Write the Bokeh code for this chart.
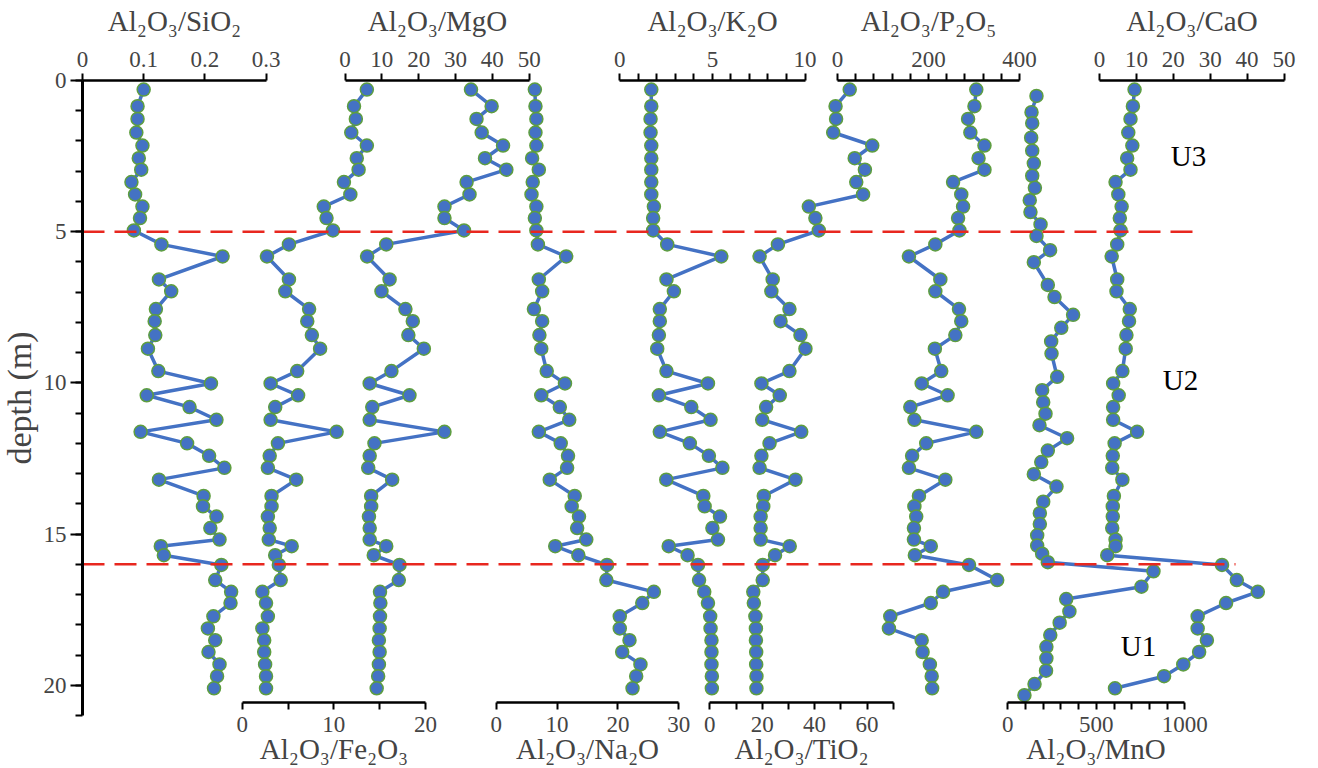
from bokeh.plotting import figure
from bokeh.models import Range1d, LinearAxis, FixedTicker, SingleIntervalTicker, CustomJSTickFormatter
from bokeh.embed import file_html
from bokeh.resources import INLINE
from bokeh.core.properties import value

# ---------------- data ----------------
depth = [0.30, 0.85, 1.27, 1.72, 2.15, 2.57, 2.95, 3.36, 3.77, 4.17, 4.55, 4.96,
         5.42, 5.82, 6.58, 6.97, 7.56, 7.96, 8.42, 8.87, 9.61, 10.02, 10.41, 10.80, 11.22,
         11.62, 12.00, 12.41, 12.81, 13.20, 13.74, 14.08, 14.42, 14.80, 15.18, 15.40, 15.70,
         16.02, 16.52, 16.91, 17.28, 17.72, 18.12, 18.51, 18.90, 19.31, 19.70, 20.10]
depth_mno = [0.51, 1.05, 1.41, 1.89, 2.32, 2.74, 3.15, 3.55, 3.96, 4.35, 4.76, 5.14,
             5.61, 6.01, 6.76, 7.16, 7.75, 8.18, 8.63, 9.03, 9.80, 10.24, 10.64, 11.02, 11.40,
             11.83, 12.24, 12.62, 13.02, 13.43, 13.93, 14.31, 14.67, 15.04, 15.38, 15.65, 15.93,
             16.23, 16.74, 17.15, 17.56, 17.93, 18.34, 18.73, 19.11, 19.52, 19.96, 20.33]

al_sio2 = [0.100, 0.090, 0.090, 0.088, 0.098, 0.092, 0.096, 0.080, 0.086, 0.098, 0.094, 0.084,
           0.129, 0.229, 0.125, 0.145, 0.120, 0.118, 0.119, 0.107, 0.124, 0.210, 0.105, 0.175, 0.219,
           0.095, 0.171, 0.207, 0.232, 0.125, 0.198, 0.197, 0.219, 0.209, 0.224, 0.128, 0.133,
           0.227, 0.217, 0.243, 0.242, 0.214, 0.205, 0.217, 0.206, 0.224, 0.220, 0.215]
al_fe2o3 = [13.6, 12.2, 12.4, 11.9, 13.6, 12.5, 12.7, 11.1, 11.8, 8.9, 9.2, 9.9,
            5.1, 2.7, 5.1, 4.7, 7.3, 7.1, 7.6, 8.5, 6.0, 3.1, 6.1, 3.6, 3.1,
            10.3, 3.9, 3.0, 2.8, 5.9, 3.2, 3.2, 2.8, 3.0, 2.9, 5.4, 3.6,
            4.0, 4.2, 2.2, 2.6, 2.8, 2.2, 2.4, 2.4, 2.5, 2.6, 2.6]
al_mgo = [34.2, 39.8, 35.7, 37.1, 42.9, 38.0, 43.8, 33.0, 33.8, 27.0, 27.0, 32.3,
          11.2, 6.0, 12.1, 9.9, 16.4, 18.4, 17.2, 21.4, 12.6, 6.7, 17.5, 7.4, 6.7,
          27.0, 8.0, 6.7, 6.3, 12.8, 7.1, 7.1, 6.5, 6.7, 6.7, 11.2, 7.8,
          14.8, 14.6, 9.5, 9.6, 9.5, 9.4, 9.2, 9.4, 9.2, 9.0, 8.6]
al_na2o = [6.35, 6.45, 6.6, 6.45, 6.6, 5.9, 7.0, 6.0, 5.8, 6.6, 6.35, 6.6,
           6.85, 11.5, 7.0, 7.55, 6.2, 7.55, 7.1, 7.4, 8.3, 11.3, 7.4, 10.45, 12.0,
           7.0, 10.6, 11.8, 11.65, 8.8, 12.9, 12.4, 13.6, 13.3, 14.8, 9.7, 13.5,
           18.2, 18.1, 25.9, 24.0, 20.3, 20.3, 21.9, 20.7, 23.7, 23.0, 22.4]
al_k2o = [1.70, 1.70, 1.66, 1.66, 1.70, 1.70, 1.70, 1.70, 1.70, 1.84, 1.80, 1.80,
          2.56, 5.48, 2.52, 2.92, 2.16, 2.16, 2.11, 2.02, 2.52, 4.76, 2.11, 3.86, 4.90,
          2.16, 3.78, 4.81, 5.54, 2.51, 4.51, 4.58, 5.41, 5.00, 5.30, 2.64, 3.66,
          4.22, 4.28, 4.56, 4.76, 4.88, 4.90, 4.95, 4.95, 4.95, 4.97, 4.97]
al_tio2 = [53.4, 48.0, 48.2, 47.1, 62.0, 55.3, 59.2, 55.9, 58.5, 37.8, 40.3, 41.6,
           26.0, 19.0, 24.0, 23.5, 30.4, 27.0, 34.6, 36.5, 30.4, 19.7, 26.7, 21.5, 20.0,
           34.9, 22.8, 19.7, 19.0, 32.7, 20.6, 20.4, 19.4, 19.4, 19.4, 30.5, 24.9,
           20.2, 20.2, 16.6, 16.8, 17.4, 17.6, 17.6, 17.7, 17.7, 17.8, 17.8]
al_p2o5 = [305, 301, 287, 292, 323, 310, 323, 254, 272, 276, 265, 268,
           215, 157, 226, 215, 267, 272, 259, 214, 228, 185, 242, 160, 169,
           305, 195, 164, 157, 237, 179, 169, 173, 168, 168, 205, 170,
           289, 351, 232, 205, 116, 113, 185, 187, 203, 207, 208]
al_mno = [162, 134, 138, 132, 138, 147, 138, 153, 124, 128, 185, 162,
          239, 147, 226, 264, 369, 302, 245, 247, 279, 194, 200, 213, 179,
          335, 226, 189, 147, 275, 200, 181, 181, 166, 166, 194, 226,
          823, 755, 330, 348, 293, 240, 218, 218, 216, 151, 94]
al_cao = [9.5, 9.05, 8.4, 7.8, 8.9, 7.5, 8.4, 4.35, 5.1, 6.0, 5.5, 5.7,
          4.8, 3.3, 4.8, 4.6, 8.2, 8.0, 7.3, 7.1, 6.2, 3.7, 5.2, 3.7, 3.7,
          10.2, 4.1, 3.6, 3.45, 6.2, 3.9, 3.6, 3.6, 3.45, 4.35, 4.35, 2.1,
          33.2, 37.2, 42.9, 34.3, 26.6, 26.6, 29.1, 27.0, 22.7, 17.5, 4.2]

unit_boundaries = [5.0, 16.0]
unit_names = ["U3", "U2", "U1"]
unit_label_depth = [2.5, 9.9, 18.7]

titles = ["Al₂O₃/SiO₂", "Al₂O₃/Fe₂O₃", "Al₂O₃/MgO", "Al₂O₃/Na₂O", "Al₂O₃/K₂O",
          "Al₂O₃/TiO₂", "Al₂O₃/P₂O₅", "Al₂O₃/MnO", "Al₂O₃/CaO"]
series = [al_sio2, al_fe2o3, al_mgo, al_na2o, al_k2o, al_tio2, al_p2o5, al_mno, al_cao]
series_depth = [depth, depth, depth, depth, depth, depth, depth, depth_mno, depth]
axis_max = [0.3, 20, 50, 30, 10, 70, 400, 1000, 50]
major_ticks = [[0, 0.1, 0.2, 0.3], [0, 10, 20], [0, 10, 20, 30, 40, 50], [0, 10, 20, 30],
               [0, 5, 10], [0, 20, 40, 60], [0, 200, 400], [0, 500, 1000], [0, 10, 20, 30, 40, 50]]
minor_ticks = [[], [5, 15], [], [],
               [1, 2, 3, 4, 6, 7, 8, 9], [10, 30, 50, 70],
               [40, 80, 120, 160, 240, 280, 320, 360],
               [100, 200, 300, 400, 600, 700, 800, 900], []]
DEPTH_MAX = 21

# ---------------- layout (page positions, px) ----------------
W, H = 1318, 768
AX_X = 82.0                 # depth axis position
TOP_Y, BOT_Y = 80.0, 715.0  # depth 0 and depth 21 on the page
spans = [(82.0, 265.5), (241.7, 425.0), (344.5, 528.7), (495.7, 678.3), (619.3, 804.5),
         (709.3, 892.7), (837.0, 1019.0), (1007.3, 1184.3), (1099.0, 1283.5)]
sides = ["above", "below", "above", "below", "above", "below", "above", "below", "above"]
BOTTOM_AXIS_DEPTH = 20.56
dash_end = [1195, 1235]
unit_label_x = [1188, 1180, 1138]

FONT = "Liberation Serif"
BLUE = "#4472C4"
GREEN = "#5E9E3F"
RED = "#E8271F"

px_per_m = (BOT_Y - TOP_Y) / DEPTH_MAX
y_top = -TOP_Y / px_per_m
y_bot = (H - TOP_Y) / px_per_m

p = figure(width=W, height=H,
           x_range=Range1d(0, W), y_range=Range1d(y_bot, y_top),
           x_axis_location=None, y_axis_location=None,
           toolbar_location=None, output_backend="svg",
           min_border_left=0, min_border_right=0, min_border_top=0, min_border_bottom=0)
p.outline_line_color = None
p.grid.visible = False
p.background_fill_color = "white"
p.border_fill_color = "white"

fmt = CustomJSTickFormatter(code="return String(tick);")

# depth axis
yax = LinearAxis(fixed_location=AX_X, bounds=(0, DEPTH_MAX),
                 ticker=SingleIntervalTicker(interval=5, num_minor_ticks=5),
                 axis_label="depth (m)")
yax.axis_line_width = 3
yax.major_tick_line_width = 2
yax.minor_tick_line_width = 2
yax.major_tick_out = 12
yax.major_tick_in = 0
yax.minor_tick_out = 7
yax.minor_tick_in = 0
yax.major_label_text_font = FONT
yax.major_label_text_font_size = "23px"
yax.major_label_standoff = 4
yax.axis_label_text_font = FONT
yax.axis_label_text_font_style = "normal"
yax.axis_label_text_font_size = "34px"
yax.axis_label_standoff = 3
yax.formatter = fmt
p.add_layout(yax, "left")

ranges = {}
for i, (s0, s1) in enumerate(spans):
    A = axis_max[i]
    k = A / (s1 - s0)
    ranges[f"r{i}"] = Range1d(-s0 * k, A + (W - s1) * k)
p.extra_x_ranges = ranges

for i in range(len(series)):
    rn = f"r{i}"
    side = sides[i]
    ax = LinearAxis(x_range_name=rn, bounds=(0, axis_max[i]),
                    fixed_location=(0 if side == "above" else BOTTOM_AXIS_DEPTH),
                    ticker=FixedTicker(ticks=major_ticks[i], minor_ticks=minor_ticks[i]),
                    formatter=fmt, axis_label=titles[i])
    ax.axis_line_width = 2.5
    ax.major_tick_line_width = 2
    ax.minor_tick_line_width = 2
    ax.major_tick_out = 7
    ax.major_tick_in = 0
    ax.minor_tick_out = 7
    ax.minor_tick_in = 0
    ax.major_label_text_font = FONT
    ax.major_label_text_font_size = "23px"
    ax.major_label_standoff = 7 if side == "above" else 8
    ax.axis_label_text_font = FONT
    ax.axis_label_text_font_style = "normal"
    ax.axis_label_text_font_size = "29px"
    ax.axis_label_standoff = 12 if side == "above" else -3
    p.add_layout(ax, side)

for i in range(len(series)):
    rn = f"r{i}"
    p.line(x=series[i], y=series_depth[i], x_range_name=rn, line_color=BLUE, line_width=3.5)
    p.scatter(x=series[i], y=series_depth[i], x_range_name=rn, marker="circle", size=13,
              fill_color=BLUE, line_color=GREEN, line_width=1.5)

p.segment(x0=[AX_X] * len(unit_boundaries), y0=unit_boundaries,
          x1=dash_end, y1=unit_boundaries,
          line_color=RED, line_width=2.5, line_dash="22 10")

p.text(x=unit_label_x, y=unit_label_depth, text=unit_names,
       text_font=value(FONT), text_font_size="29px", text_align="center",
       text_baseline="middle", text_color="black")

open("out.html", "w").write(file_html(p, INLINE))
